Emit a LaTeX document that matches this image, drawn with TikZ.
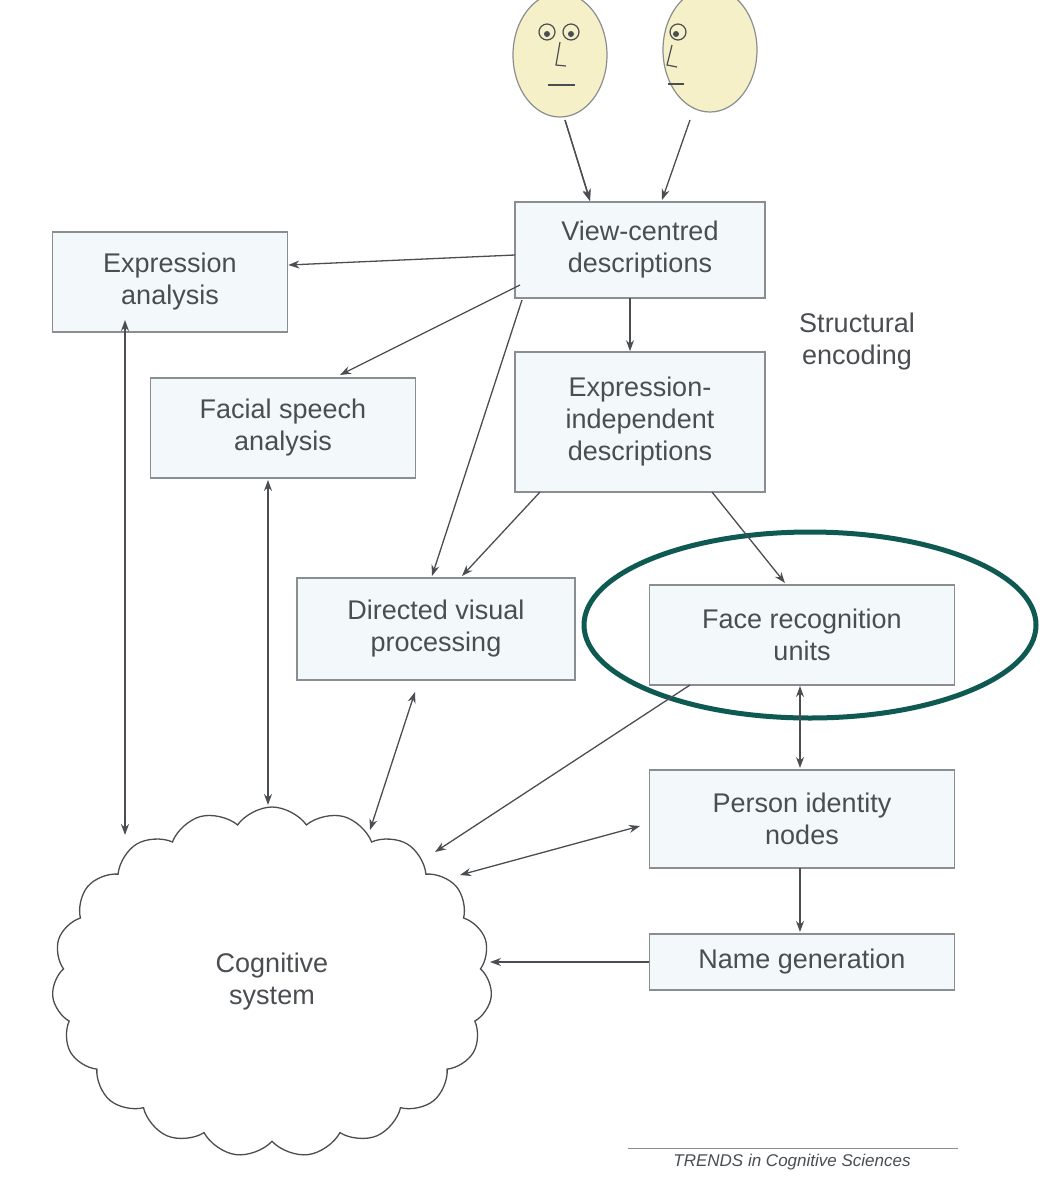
\documentclass[tikz,border=0pt]{standalone}
\usepackage{fontspec}
\setmainfont{Liberation Sans}
\usetikzlibrary{shapes.symbols,arrows.meta}
\definecolor{boxfill}{HTML}{F3F8FA}
\definecolor{boxline}{HTML}{8A8E90}
\definecolor{txt}{HTML}{4A4E52}
\definecolor{teal}{HTML}{0E5A52}
\definecolor{face}{HTML}{F5F0C8}
\begin{document}
\begin{tikzpicture}[x=1pt,y=-1pt,
  bx/.style={draw=boxline,line width=1.6pt,fill=boxfill,align=center,text=txt,font=\fontsize{27}{32}\selectfont,inner sep=0pt},
  ar/.style={draw=txt,line width=1.3pt,-{Stealth[length=11pt,width=8pt]}},
  dar/.style={draw=txt,line width=1.3pt,{Stealth[length=11pt,width=8pt]}-{Stealth[length=11pt,width=8pt]}}]
\useasboundingbox (0,0) rectangle (1040,1200);
\fill[white] (0,0) rectangle (1040,1200);
% faces
\draw[boxline,line width=1.2pt,fill=face] (560,55) ellipse [x radius=47,y radius=62];
\draw[boxline,line width=1.2pt,fill=face] (710,50) ellipse [x radius=47,y radius=62];
\draw[txt,line width=1.2pt] (547,32) circle (8) (571,32) circle (8);
\fill[txt] (547,34) circle (3) (571,34) circle (3);
\draw[txt,line width=1.2pt] (560,42) -- (556,65) -- (566,66);
\draw[txt,line width=1.2pt] (548,85) -- (575,85);
\draw[txt,line width=1.2pt] (678,32) circle (8); \fill[txt] (676,34) circle (3);
\draw[txt,line width=1.2pt] (672,45) -- (667,65) -- (677,67);
\draw[txt,line width=1.2pt] (668,84) -- (684,84);
% boxes
\node[bx,minimum width=250pt,minimum height=96pt] (vc) at (640,250) {View-centred\\descriptions};
\node[bx,minimum width=235pt,minimum height=100pt] (ea) at (170,282) {Expression\\analysis};
\node[bx,minimum width=265pt,minimum height=100pt] (fs) at (283,428) {Facial speech\\analysis};
\node[bx,minimum width=250pt,minimum height=140pt] (ei) at (640,422) {Expression-\\independent\\descriptions};
\node[bx,minimum width=278pt,minimum height=102pt] (dv) at (436,629) {Directed visual\\processing};
\node[bx,minimum width=305pt,minimum height=100pt] (fr) at (802,635) {Face recognition\\units};
\node[bx,minimum width=305pt,minimum height=98pt] (pi) at (802,819) {Person identity\\nodes};
\node[bx,minimum width=305pt,minimum height=56pt] (ng) at (802,962) {Name generation};
\node[align=center,text=txt,font=\fontsize{27}{32}\selectfont] (se) at (857,342) {Structural\\encoding};
\draw[teal,line width=5pt] (810,625) ellipse [x radius=226,y radius=93];
\node[cloud,cloud puffs=19,cloud puff arc=110,aspect=1.25,draw=txt,line width=1.3pt,minimum width=440pt,minimum height=350pt,align=center,text=txt,font=\fontsize{27}{32}\selectfont] (cs) at (272,982) {Cognitive\\system};
\node[text=txt,font=\itshape\fontsize{17}{20}\selectfont] (tr) at (792,1162) {TRENDS in Cognitive Sciences};
\draw[boxline,line width=1pt] (628,1148) -- (958,1148);
% connectors
\coordinate (f1) at (565,120); \coordinate (f2) at (690,120);
\draw[ar] (f1) -- (vc.north west -| 590,0);
\draw[ar] (f1) -- (590,200);
\draw[ar] (f2) -- (662,200);
\draw[ar] (515,255) -- (ea.east |- 0,265);
\draw[ar] (520,285) -- (340,375);
\draw[ar] (522,300) -- (432,576);
\draw[ar] (630,298) -- (ei.north -| 630,0);
\draw[ar] (540,492) -- (462,576);
\draw[ar] (712,492) -- (785,583);
\draw[dar] (800,686) -- (800,768);
\draw[ar] (800,868) -- (800,932);
\draw[ar] (ng.west) -- (490,962);
\draw[dar] (640,826) -- (460,875);
\draw[ar] (690,685) -- (435,852);
\draw[dar] (415,692) -- (370,830);
\draw[dar] (268,480) -- (268,805);
\draw[dar] (125,320) -- (125,835);
\end{tikzpicture}
\end{document}
